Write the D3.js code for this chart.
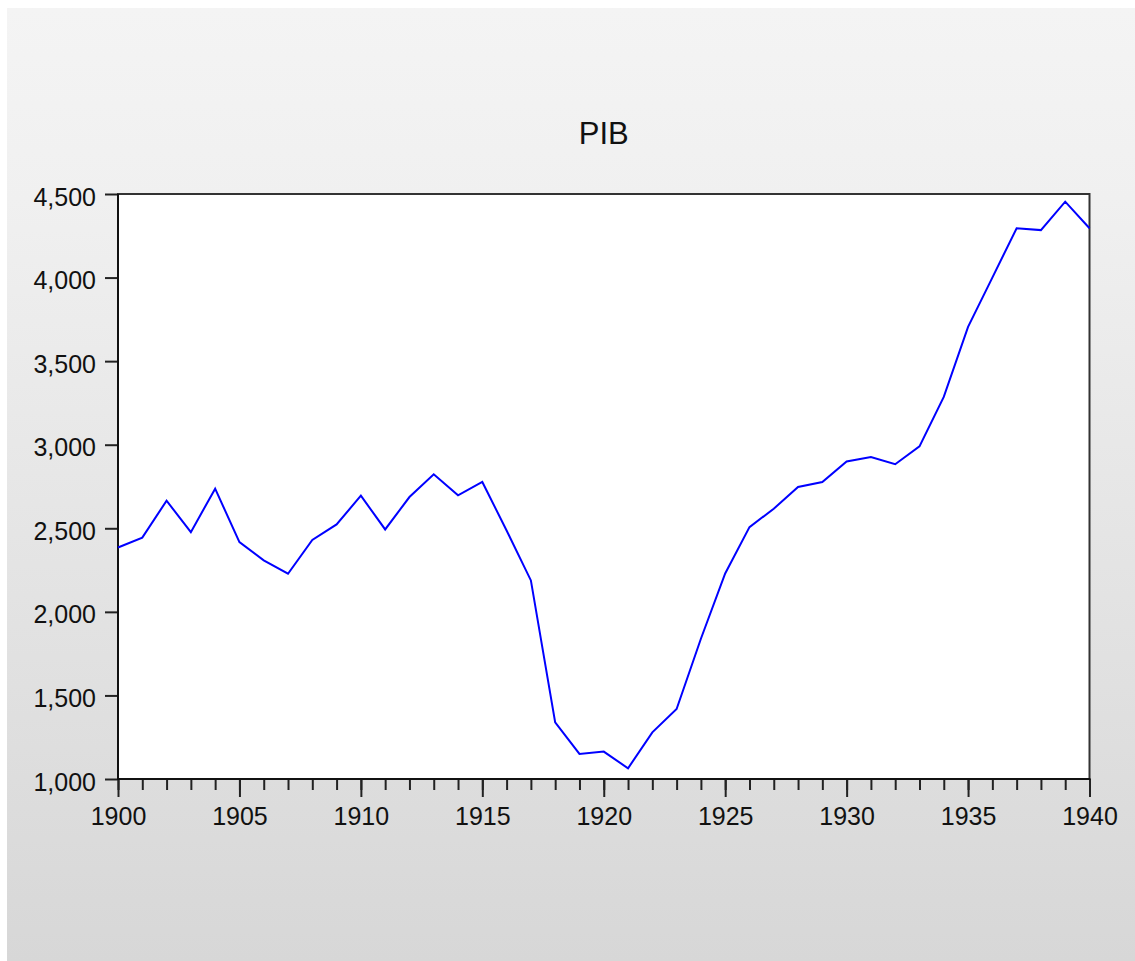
<!DOCTYPE html>
<html>
<head>
<meta charset="utf-8">
<script src="https://d3js.org/d3.v7.min.js"></script>
<style>
  body { margin: 0; background: #fff; }
  text { font-family: "Liberation Sans", Arial, sans-serif; }
</style>
</head>
<body>
<div id="my_dataviz"></div>
<script>
// data
var years = d3.range(1900, 1941);
var pib = [2385, 2444, 2665, 2477, 2737, 2417, 2308, 2228, 2430, 2523,
           2695, 2493, 2687, 2823, 2697, 2777, 2487, 2188, 1339, 1150,
           1164, 1064, 1279, 1419, 1839, 2230, 2507, 2617, 2747, 2777,
           2900, 2926, 2883, 2990, 3286, 3705, 4000, 4295, 4284, 4454, 4295];
var yTicks = [1000, 1500, 2000, 2500, 3000, 3500, 4000, 4500];
var xTicks = [1900, 1905, 1910, 1915, 1920, 1925, 1930, 1935, 1940];
var title = "PIB";

// plot box (note: "top" clashes with window.top, so use a margin object)
var W = 1135, H = 961;
var margin = {left: 118, right: 1089.5, top: 194, bottom: 779};

var svg = d3.select("#my_dataviz")
  .append("svg")
    .attr("width", W)
    .attr("height", H)
    .style("display", "block");

// grey gradient background
var grad = svg.append("defs").append("linearGradient")
    .attr("id", "bg")
    .attr("x1", 0).attr("y1", 0).attr("x2", 0).attr("y2", 1);
grad.append("stop").attr("offset", "0%").attr("stop-color", "#f4f4f4");
grad.append("stop").attr("offset", "20%").attr("stop-color", "#f0f0f0");
grad.append("stop").attr("offset", "100%").attr("stop-color", "#d7d7d7");

svg.append("rect")
  .attr("x", 7).attr("y", 8)
  .attr("width", W - 7).attr("height", H - 8)
  .style("fill", "url(#bg)");

// plot area
svg.append("rect")
  .attr("x", margin.left).attr("y", margin.top)
  .attr("width", margin.right - margin.left).attr("height", margin.bottom - margin.top)
  .style("fill", "#fff")
  .style("stroke", "#333")
  .style("stroke-width", 2);

var x = d3.scaleLinear()
  .domain([1900, 1940])
  .range([margin.left, margin.right]);

var y = d3.scaleLinear()
  .domain([1000, 4500])
  .range([margin.bottom, margin.top]);

// Y axis
var yAxis = svg.append("g")
  .attr("transform", "translate(" + margin.left + ",0)")
  .call(d3.axisLeft(y)
    .tickValues(yTicks)
    .tickFormat(d3.format(","))
    .tickSize(13)
    .tickPadding(9));

// X axis: minor ticks every year
svg.append("g")
  .attr("transform", "translate(0," + margin.bottom + ")")
  .call(d3.axisBottom(x)
    .tickValues(years)
    .tickFormat("")
    .tickSize(11));

// X axis: major ticks + labels
var xAxis = svg.append("g")
  .attr("transform", "translate(0," + margin.bottom + ")")
  .call(d3.axisBottom(x)
    .tickValues(xTicks)
    .tickFormat(d3.format("d"))
    .tickSize(18)
    .tickPadding(10));

svg.selectAll(".domain").remove();
svg.selectAll(".tick line").style("stroke", "#222").style("stroke-width", 2);
svg.selectAll(".tick text")
  .style("font-size", "25px")
  .style("fill", "#111");
yAxis.selectAll(".tick text").attr("dy", "0.44em");

// axis lines drawn over
svg.append("line")
  .attr("x1", margin.left).attr("x2", margin.left)
  .attr("y1", margin.top).attr("y2", margin.bottom + 1)
  .style("stroke", "#111").style("stroke-width", 2);
svg.append("line")
  .attr("x1", margin.left - 1).attr("x2", margin.right + 1)
  .attr("y1", margin.bottom).attr("y2", margin.bottom)
  .style("stroke", "#111").style("stroke-width", 2);

// the series
var line = d3.line()
  .x(function(d, i) { return x(years[i]); })
  .y(function(d) { return y(d); });

svg.append("path")
  .datum(pib)
  .attr("d", line)
  .style("fill", "none")
  .style("stroke", "#0000ff")
  .style("stroke-width", 2);

// title
svg.append("text")
  .attr("x", (margin.left + margin.right) / 2)
  .attr("y", 144)
  .attr("text-anchor", "middle")
  .style("font-size", "31px")
  .style("fill", "#111")
  .text(title);
</script>
</body>
</html>
